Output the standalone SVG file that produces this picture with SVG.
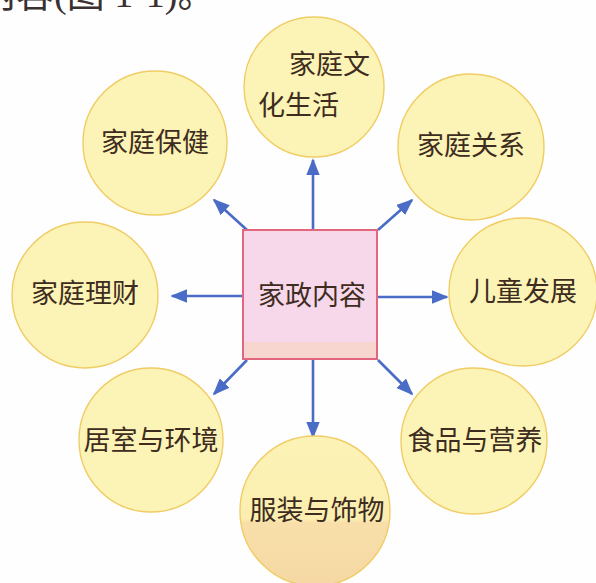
<svg xmlns="http://www.w3.org/2000/svg" width="596" height="583" viewBox="0 0 596 583">
<defs>
<style>
.c{fill:#fcf4b6;stroke:#f0cc64;stroke-width:1.4}
.t{font-family:"Noto Sans CJK SC","Noto Sans CJK TC",sans-serif;font-size:27px;fill:#3e2c20}
.e{stroke:#4a6cc6;stroke-width:2.6;fill:none;marker-end:url(#ah)}
</style>
<marker id="ah" viewBox="0 0 10 8" refX="9" refY="4" markerWidth="6.5" markerHeight="5.2" orient="auto" markerUnits="strokeWidth">
<path d="M0,0 L10,4 L0,8 Z" fill="#4a6cc6"/>
</marker>
<linearGradient id="gb" x1="0" y1="0" x2="0" y2="1">
<stop offset="0" stop-color="#fcf3b6"/>
<stop offset="0.55" stop-color="#fbeeb0"/>
<stop offset="0.58" stop-color="#f8dfaa"/>
<stop offset="1" stop-color="#f5d8a4"/>
</linearGradient>
</defs>
<rect width="596" height="583" fill="#fefefe"/>
<text x="-22" y="7" font-family="'Liberation Serif','Noto Sans CJK SC',serif" font-size="38" fill="#3a3030">内容(图 1-1)。</text>

<g id="connectors">
<line class="e" x1="313" y1="230" x2="313" y2="160"/>
<line class="e" x1="313" y1="359" x2="313" y2="437"/>
<line class="e" x1="243" y1="296" x2="172" y2="296"/>
<line class="e" x1="377" y1="297" x2="447" y2="297"/>
<line class="e" x1="247" y1="230" x2="214" y2="200"/>
<line class="e" x1="378" y1="230" x2="412" y2="200"/>
<line class="e" x1="247" y1="360" x2="214" y2="394"/>
<line class="e" x1="378" y1="360" x2="412" y2="394"/>
</g>

<g id="center">
<rect x="243" y="230" width="134" height="129" fill="#f6d8ea" stroke="#e2667e" stroke-width="2"/>
<rect x="244" y="342" width="132" height="16" fill="#f8d6d0"/>
<text class="t" x="312" y="305" text-anchor="middle">家政内容</text>
</g>

<g id="n-wenhua">
<circle class="c" cx="314" cy="87" r="70"/>
<text class="t" x="289" y="74">家庭文</text>
<text class="t" x="258" y="115">化生活</text>
</g>
<g id="n-baojian">
<circle class="c" cx="155" cy="143" r="72"/>
<text class="t" x="155" y="152" text-anchor="middle">家庭保健</text>
</g>
<g id="n-guanxi">
<circle class="c" cx="471" cy="147" r="73"/>
<text class="t" x="471" y="155" text-anchor="middle">家庭关系</text>
</g>
<g id="n-licai">
<circle class="c" cx="85" cy="295" r="73"/>
<text class="t" x="85" y="303" text-anchor="middle">家庭理财</text>
</g>
<g id="n-ertong">
<circle class="c" cx="523" cy="292" r="74"/>
<text class="t" x="523" y="301" text-anchor="middle">儿童发展</text>
</g>
<g id="n-jushi">
<circle class="c" cx="151" cy="440" r="72"/>
<text class="t" x="151" y="450" text-anchor="middle">居室与环境</text>
</g>
<g id="n-shipin">
<circle class="c" cx="474" cy="441" r="73"/>
<text class="t" x="475" y="450" text-anchor="middle">食品与营养</text>
</g>
<g id="n-fuzhuang">
<circle cx="315" cy="511" r="75" fill="url(#gb)" stroke="#f0cc64" stroke-width="1.4"/>
<text class="t" x="317" y="520" text-anchor="middle">服装与饰物</text>
</g>
</svg>
